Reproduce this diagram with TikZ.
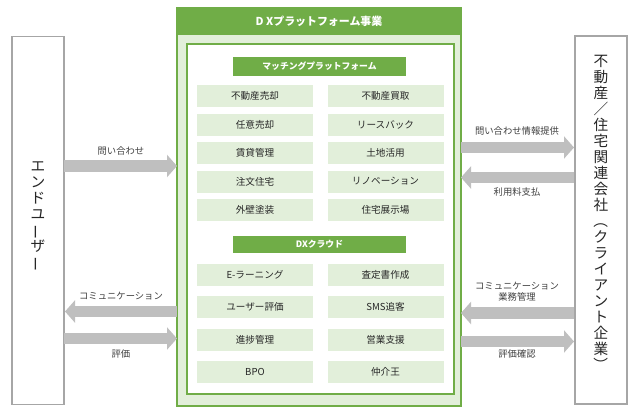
\documentclass[tikz,border=0pt]{standalone}
\usepackage{fontspec}
\setmainfont{Noto Sans CJK JP}
\usepackage{graphicx}
\usetikzlibrary{arrows.meta}
\definecolor{dxgreen}{HTML}{70AD47}
\definecolor{dxlight}{HTML}{E2EFDA}
\definecolor{dxgray}{HTML}{BFBFBF}
\definecolor{boxgray}{HTML}{A6A6A6}
\definecolor{txt}{HTML}{262626}
\definecolor{lbl}{HTML}{404040}
\newcommand{\vlong}{\rotatebox[origin=c]{90}{ー}}
\newcommand{\vlp}{\rotatebox[origin=c]{-90}{（}}
\newcommand{\vrp}{\rotatebox[origin=c]{-90}{）}}
\begin{document}
\begin{tikzpicture}[x=0.75pt,y=-0.75pt,
  item/.style={fill=dxlight, minimum width=87pt, minimum height=16.5pt, inner sep=0pt,
    font=\fontsize{7.2}{8}\selectfont, text=txt},
  banner/.style={fill=dxgreen, minimum width=130pt, minimum height=14pt, inner sep=0pt,
    font=\fontsize{6.6}{8}\selectfont\bfseries, text=white},
  sidebox/.style={draw=boxgray, line width=1.1pt, fill=white, minimum width=39pt,
    minimum height=276pt, inner sep=0pt},
  vtext/.style={align=center, font=\fontsize{11}{12}\selectfont, text=txt},
  blockarrow/.style={draw=dxgray, line width=8.5pt, -{Triangle[length=7.5pt, width=16.5pt]}},
  lab/.style={font=\fontsize{7}{8}\selectfont, text=lbl, align=center}
]
\useasboundingbox (0,0) rectangle (637,414);

% outer platform box
\node[draw=dxgreen, line width=1.5pt, fill=dxlight, minimum width=213pt, minimum height=299pt, inner sep=0pt] (outer) at (319,207) {};
\fill[dxgreen] (177,7) rectangle (461,35);
\node[font=\fontsize{8.2}{9}\selectfont\bfseries, text=white] (title) at (319,21) {D Xプラットフォーム事業};
\node[draw=dxgreen, line width=1.5pt, fill=white, minimum width=200.5pt, minimum height=263pt, inner sep=0pt] (inner) at (320.5,219) {};

% banners
\node[banner] (b1) at (319.5,66.5) {マッチングプラットフォーム};
\node[banner, minimum height=13pt] (b2) at (319.5,244.5) {DXクラウド};

% items
\node[item] (l1) at (255,96) {不動産売却};
\node[item] (l2) at (255,124.5) {任意売却};
\node[item] (l3) at (255,153) {賃貸管理};
\node[item] (l4) at (255,181.5) {注文住宅};
\node[item] (l5) at (255,210) {外壁塗装};
\node[item] (r1) at (385.5,96) {不動産買取};
\node[item] (r2) at (385.5,124.5) {リースバック};
\node[item] (r3) at (385.5,153) {土地活用};
\node[item] (r4) at (385.5,181.5) {リノベーション};
\node[item] (r5) at (385.5,210) {住宅展示場};
\node[item] (l6) at (255,274.5) {E-ラーニング};
\node[item] (l7) at (255,306.5) {ユーザー評価};
\node[item] (l8) at (255,339.5) {進捗管理};
\node[item] (l9) at (255,371.5) {BPO};
\node[item] (r6) at (385.5,274.5) {査定書作成};
\node[item] (r7) at (385.5,306.5) {SMS追客};
\node[item] (r8) at (385.5,339.5) {営業支援};
\node[item] (r9) at (385.5,371.5) {仲介王};

% side boxes
\node[sidebox] (user) at (38,220.5) {};
\node[vtext] (usert) at (38,217) {エ\\ン\\ド\\ユ\\\vlong\\ザ\\\vlong};
\node[sidebox] (client) at (601,220) {};
\node[vtext] (clientt) at (601,214) {不\\動\\産\\／\\住\\宅\\関\\連\\会\\社\\\vlp\\ク\\ラ\\イ\\ア\\ン\\ト\\企\\業\\\vrp};

% arrow end points
\coordinate (a1s) at (64,166);   \coordinate (a1e) at (177,166);
\coordinate (a2s) at (177,311.5); \coordinate (a2e) at (65,311.5);
\coordinate (a3s) at (64,338.5); \coordinate (a3e) at (177,338.5);
\coordinate (b1s) at (461,147.5); \coordinate (b1e) at (574,147.5);
\coordinate (b2s) at (574,177.5); \coordinate (b2e) at (461,177.5);
\coordinate (b3s) at (574,313);   \coordinate (b3e) at (461,313);
\coordinate (b4s) at (461,341.5); \coordinate (b4e) at (574,341.5);

\draw[blockarrow] (a1s) -- (a1e);
\draw[blockarrow] (a2s) -- (a2e);
\draw[blockarrow] (a3s) -- (a3e);
\draw[blockarrow] (b1s) -- (b1e);
\draw[blockarrow] (b2s) -- (b2e);
\draw[blockarrow] (b3s) -- (b3e);
\draw[blockarrow] (b4s) -- (b4e);

% labels
\node[lab] (t1) at (121,151) {問い合わせ};
\node[lab] (t2) at (121,296) {コミュニケーション};
\node[lab] (t3) at (121,354) {評価};
\node[lab] (t4) at (517,131) {問い合わせ情報提供};
\node[lab] (t5) at (517,192) {利用料支払};
\node[lab] (t6) at (517,292) {コミュニケーション\\業務管理};
\node[lab] (t7) at (517,354) {評価確認};
\end{tikzpicture}
\end{document}
